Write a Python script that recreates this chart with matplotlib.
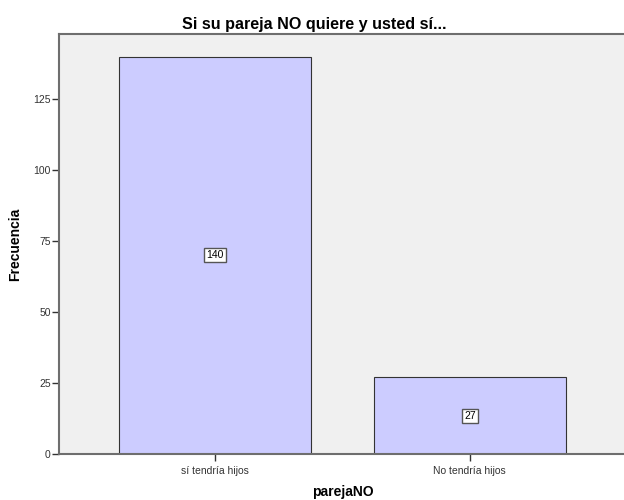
import matplotlib
matplotlib.use("Agg")
import matplotlib.pyplot as plt

plt.rcParams["font.family"] = ["Liberation Sans", "DejaVu Sans"]

# data
categories = ["sí tendría hijos", "No tendría hijos"]
counts = [140, 27]
y_ticks = [0, 25, 50, 75, 100, 125]

fig = plt.figure(figsize=(6.24, 5.0), dpi=100)
ax = fig.add_axes([0.0946, 0.092, 0.91, 0.84])
ax.set_facecolor("#F0F0F0")

pos = list(range(len(categories)))
ax.bar(pos, counts, width=0.753, color="#CCCCFF", edgecolor="#333333", linewidth=0.8, zorder=2)

# count labels in the middle of each bar
for x, c in zip(pos, counts):
    ax.text(x, c / 2, str(c), ha="center", va="center", fontsize=7.5, zorder=3,
            bbox=dict(boxstyle="square,pad=0.2", facecolor="white", edgecolor="#555555", linewidth=1))

ax.set_xlim(-0.612, 1.616)
ax.set_ylim(0, 148)
ax.set_xticks(pos)
ax.set_xticklabels(categories)
ax.set_yticks(y_ticks)

for side in ["left", "bottom", "top"]:
    ax.spines[side].set_color("#6E6E6E")
    ax.spines[side].set_linewidth(1.5)
ax.spines["right"].set_visible(False)

ax.tick_params(axis="both", colors="#333333", labelsize=7.5, length=5, width=1, direction="out", pad=1)
ax.tick_params(axis="x", pad=4)

fig.text(0.503, 0.952, "Si su pareja NO quiere y usted sí...", ha="center", va="center",
         fontsize=11.6, fontweight="bold")
ax.set_ylabel("Frecuencia", fontsize=10, fontweight="bold", va="center")
ax.yaxis.set_label_coords(-0.0775, 0.5)
ax.set_xlabel("parejaNO", fontsize=10, fontweight="bold", va="center")
ax.xaxis.set_label_coords(0.5, -0.0905)

fig.savefig("out.png", dpi=100)
